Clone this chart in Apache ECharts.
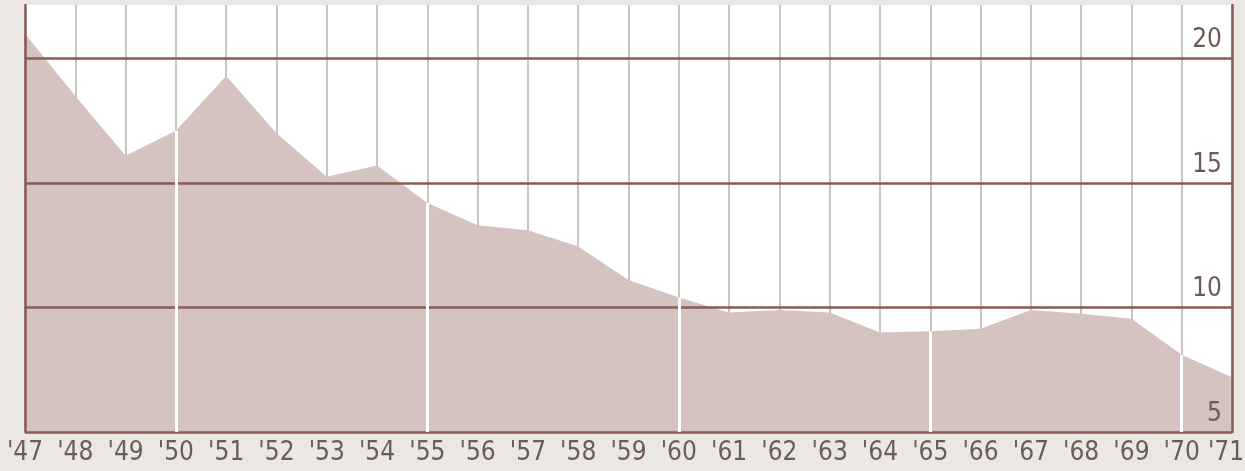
<!DOCTYPE html>
<html>
<head>
<meta charset="utf-8">
<script src="https://cdn.jsdelivr.net/npm/echarts@6/dist/echarts.min.js"></script>
<style>
  html, body { margin: 0; padding: 0; background: #ebe8e3; }
  #chart { width: 1245px; height: 471px; }
</style>
</head>
<body>
<div id="chart"></div>
<script>
// ---- data ----
const years = ["'47","'48","'49","'50","'51","'52","'53","'54","'55","'56","'57","'58","'59","'60","'61","'62","'63","'64","'65","'66","'67","'68","'69","'70","'71"];
const values = [21.0, 18.5, 16.1, 17.1, 19.3, 17.0, 15.25, 15.7, 14.2, 13.3, 13.1, 12.45, 11.1, 10.4, 9.8, 9.9, 9.8, 9.0, 9.05, 9.15, 9.9, 9.75, 9.55, 8.1, 7.2];
const yTicks = [5, 10, 15, 20];
const whiteYears = ["'50", "'55", "'60", "'65", "'70"];
const yMin = 5;
const yMax = 22.15;

// ---- styles ----
const brown = '#8a5a53';
const textColor = '#6e5a58';
const fontFam = '"DejaVu Sans Condensed", "Liberation Sans Narrow", "Roboto", sans-serif';
const fs = 26;

const whiteLines = whiteYears.map(y => {
  const v = values[years.indexOf(y)];
  return [{ coord: [y, yMin] }, { coord: [y, v] }];
});

const chart = echarts.init(document.getElementById('chart'), null, { renderer: 'canvas' });
chart.setOption({
  animation: false,
  backgroundColor: '#ebe8e3',
  grid: {
    left: 25, right: 13, top: 5, bottom: 39,
    outerBoundsMode: 'none', containLabel: false,
    show: true, backgroundColor: '#ffffff', borderWidth: 0
  },
  xAxis: {
    type: 'category',
    data: years,
    boundaryGap: false,
    axisLine: { show: false },
    axisTick: { show: false },
    axisLabel: {
      interval: 0, color: textColor, fontSize: fs, fontFamily: fontFam, margin: 8, hideOverlap: false,
      formatter: (v, i) => (i === years.length - 1 ? '{last|' + v + '}' : v),
      rich: { last: { color: textColor, fontSize: fs, fontFamily: fontFam, padding: [0, 12, 0, 0] } }
    },
    splitLine: { show: true, lineStyle: { color: '#cbc4c3', width: 2 } }
  },
  yAxis: [
    {
      type: 'value',
      position: 'right',
      min: yMin, max: yMax, interval: yTicks[1] - yTicks[0],
      z: 3,
      axisLine: { show: true, lineStyle: { color: brown, width: 2.5 } },
      axisTick: { show: false },
      axisLabel: {
        inside: true, margin: 10, showMaxLabel: false,
        color: textColor, fontSize: fs, fontFamily: fontFam,
        verticalAlign: 'bottom', padding: [0, 0, 5, 0]
      },
      splitLine: { show: true, showMaxLine: false, lineStyle: { color: brown, width: 2.5 } }
    },
    {
      type: 'value',
      position: 'left',
      min: yMin, max: yMax, interval: yTicks[1] - yTicks[0],
      z: 3,
      axisLine: { show: true, lineStyle: { color: brown, width: 2.5 } },
      axisTick: { show: false },
      axisLabel: { show: false },
      splitLine: { show: false }
    }
  ],
  series: [{
    type: 'line',
    data: values,
    symbol: 'none',
    lineStyle: { width: 0 },
    areaStyle: { color: '#d4c3bf', opacity: 1, origin: 'start' },
    z: 2,
    markLine: {
      silent: true,
      symbol: ['none', 'none'],
      label: { show: false },
      lineStyle: { color: '#ffffff', width: 3, type: 'solid' },
      data: whiteLines
    }
  }]
});
</script>
</body>
</html>
